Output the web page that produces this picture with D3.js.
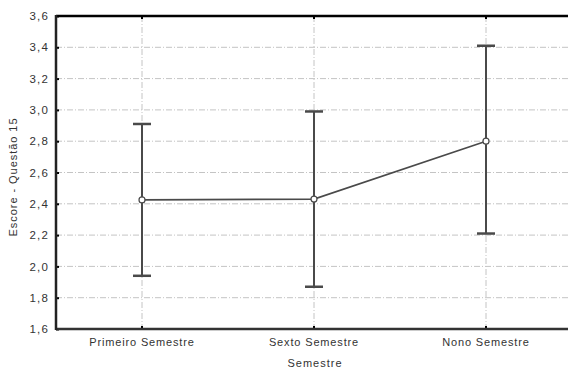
<!DOCTYPE html>
<html><head><meta charset="utf-8">
<script src="https://cdn.jsdelivr.net/npm/d3@7"></script>
<style>body{margin:0;background:#fff}svg{display:block}</style>
</head><body>
<svg id="c" width="568" height="370"></svg>
<script>
const categories = ["Primeiro Semestre", "Sexto Semestre", "Nono Semestre"];
const means = [2.425, 2.43, 2.80];
const upper = [2.91, 2.99, 3.41];
const lower = [1.94, 1.87, 2.21];
const yTicks = [1.6, 1.8, 2.0, 2.2, 2.4, 2.6, 2.8, 3.0, 3.2, 3.4, 3.6];

const svg = d3.select("#c");
const L = 56, R = 572, T = 16, B = 329;
const x = d3.scaleBand().domain(categories).range([L, R]);
const y = d3.scaleLinear().domain([1.6, 3.6]).range([B, T]);
const cx = d => x(d) + x.bandwidth() / 2;
const font = "Liberation Sans, Arial, sans-serif";

// gridlines
svg.append("g").selectAll("line").data(yTicks.slice(1, -1)).join("line")
  .attr("x1", L).attr("x2", R).attr("y1", d => y(d)).attr("y2", d => y(d))
  .attr("stroke", "#c4c4c4").attr("stroke-width", 1).attr("stroke-dasharray", "6,2,1,2");
svg.append("g").selectAll("line").data(categories).join("line")
  .attr("x1", cx).attr("x2", cx).attr("y1", T).attr("y2", B)
  .attr("stroke", "#c4c4c4").attr("stroke-width", 1).attr("stroke-dasharray", "6,2,1,2");

// y axis
const yAxis = d3.axisLeft(y).tickValues(yTicks).tickSize(-3).tickPadding(7)
  .tickFormat(d => d3.format(".1f")(d).replace(".", ","));
const ya = svg.append("g").attr("transform", `translate(${L},0)`).call(yAxis);
ya.select(".domain").remove();
ya.selectAll(".tick line").attr("stroke", "#000").attr("stroke-width", 2);
ya.selectAll(".tick text").attr("font-family", font).attr("font-size", 11.5)
  .attr("letter-spacing", 1.2).attr("fill", "#333");

// x axis
const xAxis = d3.axisBottom(x).tickSize(-3).tickPadding(9);
const xa = svg.append("g").attr("transform", `translate(0,${B})`).call(xAxis);
xa.select(".domain").remove();
xa.selectAll(".tick line").attr("stroke", "#000").attr("stroke-width", 2);
xa.selectAll(".tick text").attr("font-family", font).attr("font-size", 11)
  .attr("letter-spacing", 0.85).attr("fill", "#333");

// top ticks
svg.append("g").selectAll("line").data(categories).join("line")
  .attr("x1", cx).attr("x2", cx).attr("y1", T).attr("y2", T + 3)
  .attr("stroke", "#000").attr("stroke-width", 2);

// frame
svg.append("line").attr("x1", L).attr("x2", R).attr("y1", T).attr("y2", T).attr("stroke", "#000").attr("stroke-width", 2.5);
svg.append("line").attr("x1", L).attr("x2", R).attr("y1", B).attr("y2", B).attr("stroke", "#333").attr("stroke-width", 2.5);
svg.append("line").attr("x1", L).attr("x2", L).attr("y1", T - 1).attr("y2", B + 1).attr("stroke", "#222").attr("stroke-width", 2.5);

// error bars
const col = "#4a4a4a";
const eb = svg.append("g");
categories.forEach((c, i) => {
  eb.append("line").attr("x1", cx(c)).attr("x2", cx(c)).attr("y1", y(upper[i])).attr("y2", y(lower[i]))
    .attr("stroke", col).attr("stroke-width", 2);
  [upper[i], lower[i]].forEach(v => {
    eb.append("line").attr("x1", cx(c) - 9).attr("x2", cx(c) + 9).attr("y1", y(v)).attr("y2", y(v))
      .attr("stroke", col).attr("stroke-width", 2.5);
  });
});

// mean line
const line = d3.line().x((d, i) => cx(categories[i])).y(d => y(d));
svg.append("path").attr("d", line(means)).attr("fill", "none").attr("stroke", col).attr("stroke-width", 1.6);
svg.append("g").selectAll("circle").data(means).join("circle")
  .attr("cx", (d, i) => cx(categories[i])).attr("cy", d => y(d)).attr("r", 3)
  .attr("fill", "#fff").attr("stroke", col).attr("stroke-width", 1.2);

// titles
svg.append("text").attr("x", 315).attr("y", 367).attr("text-anchor", "middle")
  .attr("font-family", font).attr("font-size", 11).attr("letter-spacing", 1).attr("fill", "#333").text("Semestre");
svg.append("text").attr("transform", `translate(17,177) rotate(-90)`).attr("text-anchor", "middle")
  .attr("font-family", font).attr("font-size", 11).attr("letter-spacing", 0.95).attr("fill", "#333").text("Escore - Questão 15");
</script>
</body></html>
